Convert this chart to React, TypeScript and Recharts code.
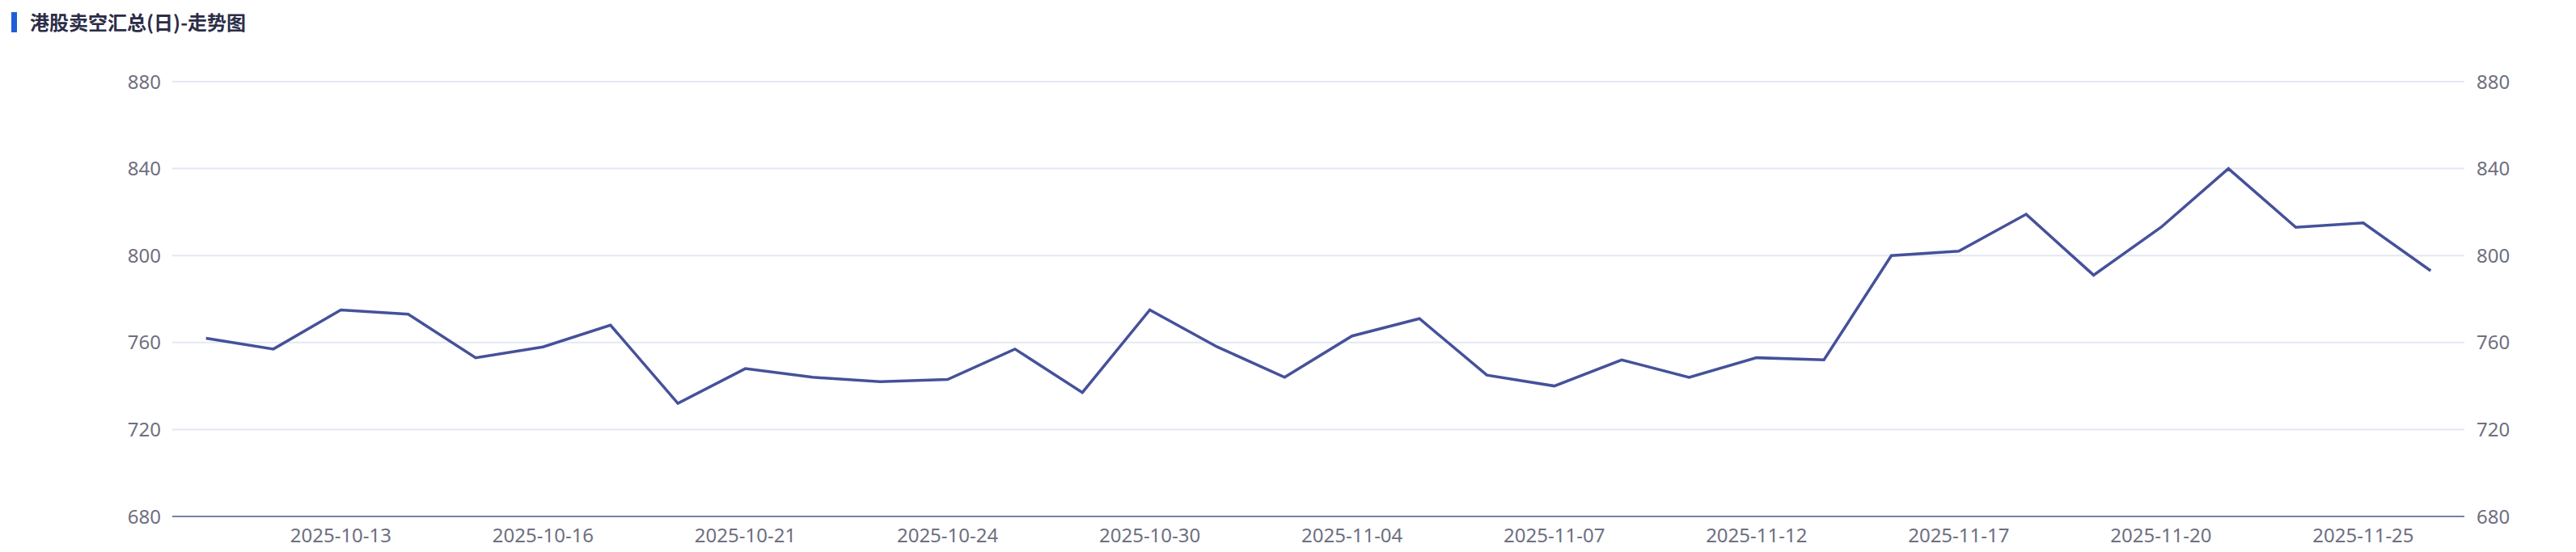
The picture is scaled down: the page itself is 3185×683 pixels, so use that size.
import React from 'react';
import { LineChart, Line, XAxis, YAxis, CartesianGrid } from 'recharts';

const dates = [
  '2025-10-09', '2025-10-10', '2025-10-13', '2025-10-14', '2025-10-15', '2025-10-16', '2025-10-17',
  '2025-10-20', '2025-10-21', '2025-10-22', '2025-10-23', '2025-10-24', '2025-10-27', '2025-10-28',
  '2025-10-30', '2025-10-31', '2025-11-03', '2025-11-04', '2025-11-05', '2025-11-06', '2025-11-07',
  '2025-11-10', '2025-11-11', '2025-11-12', '2025-11-13', '2025-11-14', '2025-11-17', '2025-11-18',
  '2025-11-19', '2025-11-20', '2025-11-21', '2025-11-24', '2025-11-25', '2025-11-26',
];

const values = [
  762, 757, 775, 773, 753, 758, 768,
  732, 748, 744, 742, 743, 757, 737,
  775, 758, 744, 763, 771, 745, 740,
  752, 744, 753, 752, 800, 802, 819,
  791, 813, 840, 813, 815, 793,
];

const yTicks = [680, 720, 760, 800, 840, 880];

const title = '港股卖空汇总(日)-走势图';

const data = dates.map((d, i) => ({ date: d, value: values[i] }));

const FONT = '"Noto Sans", "Noto Sans CJK SC", sans-serif';
const LABEL_COLOR = '#6e6f80';

const XTick = (props: any) => {
  const { x, y, payload, index } = props;
  if (index % 3 !== 2) return null;
  return (
    <text x={x} y={y} dy="0.71em" textAnchor="middle" fill={LABEL_COLOR} fontSize={24} fontFamily={FONT}>
      {payload.value}
    </text>
  );
};

export default function App() {
  return (
    <div style={{ position: 'fixed', left: 0, top: 0, width: 3185, height: 683, background: '#ffffff' }}>
      <div style={{ position: 'absolute', left: 14, top: 15, width: 7, height: 25, background: '#1e5fd8' }} />
      <div
        style={{
          position: 'absolute',
          left: 37,
          top: 10,
          fontSize: 24,
          lineHeight: '34px',
          fontWeight: 700,
          color: '#2b2d48',
          fontFamily: '"Noto Sans CJK SC", "Noto Sans", sans-serif',
          whiteSpace: 'nowrap',
        }}
      >
        {title}
      </div>
      <div style={{ position: 'absolute', left: 0, top: 0 }}>
        <LineChart width={3185} height={683} data={data} margin={{ top: 101, right: 0, bottom: 0, left: 0 }}>
          <CartesianGrid horizontal vertical={false} stroke="#e4e8f4" strokeWidth={2} yAxisId="left" />
          <XAxis
            dataKey="date"
            interval={0}
            tickLine={false}
            axisLine={{ stroke: '#7580aa', strokeWidth: 2 }}
            height={44}
            tickMargin={9}
            padding={{ left: 41.7, right: 41.7 }}
            tick={<XTick />}
          />
          <YAxis
            yAxisId="left"
            orientation="left"
            width={213}
            domain={[680, 880]}
            ticks={yTicks}
            axisLine={false}
            tickLine={false}
            tickMargin={8}
            tick={{ fill: LABEL_COLOR, fontSize: 24, fontFamily: FONT }}
          />
          <YAxis
            yAxisId="right"
            orientation="right"
            width={138}
            domain={[680, 880]}
            ticks={yTicks}
            axisLine={false}
            tickLine={false}
            tickMargin={9}
            tick={{ fill: LABEL_COLOR, fontSize: 24, fontFamily: FONT }}
          />
          <Line
            yAxisId="left"
            type="linear"
            dataKey="value"
            stroke="#45519a"
            strokeWidth={3.5}
            dot={false}
            activeDot={false}
            isAnimationActive={false}
          />
          <Line
            yAxisId="right"
            type="linear"
            dataKey="value"
            stroke="none"
            strokeWidth={0}
            dot={false}
            activeDot={false}
            legendType="none"
            isAnimationActive={false}
          />
        </LineChart>
      </div>
    </div>
  );
}
